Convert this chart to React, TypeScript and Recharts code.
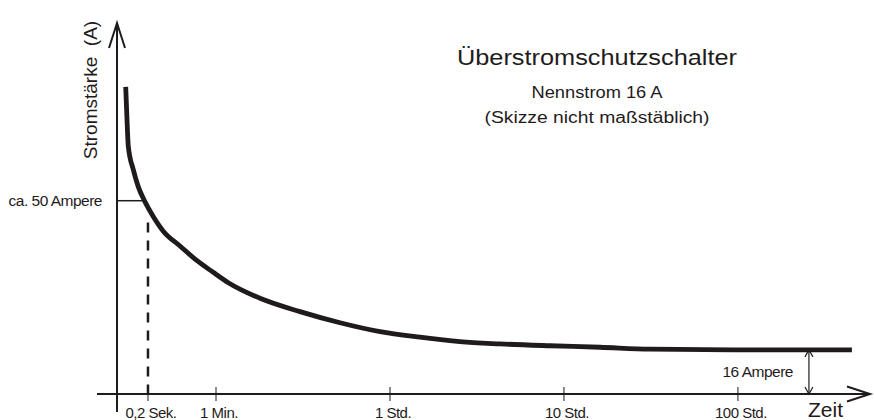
import React from "react";
import { ComposedChart, Line, XAxis, YAxis, ReferenceLine, Customized } from "recharts";

// sketch units: time 1 Min. = 0, 1 Std. = 1, 10 Std. = 2, 100 Std. = 3 (nicht maßstäblich)
const curveTime = [-0.519, -0.513, -0.504, -0.475, -0.447, -0.408, -0.36, -0.303, -0.207, -0.111, -0.016, 0.071, 0.253, 0.483, 0.713, 0.943, 1.172, 1.402, 1.632, 1.92, 2.207, 2.494, 3.069, 3.655];
const curveCurrent = [82.8, 75.7, 66.7, 60.4, 55.9, 51.8, 47.8, 43.9, 39.9, 36.0, 32.8, 30.0, 25.8, 22.2, 19.2, 16.8, 15.3, 14.1, 13.5, 13.0, 12.6, 12.1, 11.9, 11.9];

const tickTimes = [-0.391, 0, 1, 2, 3];
const tickLabels = ["0,2 Sek.", "1 Min.", "1 Std.", "10 Std.", "100 Std."];

const axisTime = -0.569;
const timeDomain = [-0.684, 3.759];
const currentDomain = [0, 100];
const axisBottom = -4.85;

const tripTime = -0.391;
const tripCurrent = 52.1;
const tripCurveTime = -0.408;
const tripDashTop = 46.2;

const nominalCurrent = 11.9;
const nominalMarkerTime = 3.408;

const data = curveTime.map((t, i) => ({ t, i: curveCurrent[i] }));

const INK = "#1f1b1c";
const FONT = "'Liberation Sans', Arial, Helvetica, sans-serif";

const TimeTick = (props: any) => {
  const { x, y, payload } = props;
  const idx = tickTimes.indexOf(payload.value);
  return (
    <g>
      <line x1={x} y1={y - 7} x2={x} y2={y + 7} stroke={INK} strokeWidth={1} />
      <text x={x + 3} y={y + 23.5} textAnchor="middle" fontSize={15} letterSpacing={-0.5} fill={INK} fontFamily={FONT}>
        {tickLabels[idx]}
      </text>
    </g>
  );
};

const TimeAxis = (p: any) => {
  const { x1, y1, x2, y2 } = p;
  return (
    <g>
      <line x1={x1} y1={y1} x2={x2} y2={y2} stroke={INK} strokeWidth={2} />
      <polyline points={`${x2 - 23},${y2 - 7.5} ${x2},${y2} ${x2 - 23},${y2 + 7.5}`} fill="none" stroke={INK} strokeWidth={2} />
      <text x={x2 - 62} y={y2 + 23} fontSize={21} fill={INK} fontFamily={FONT}>Zeit</text>
    </g>
  );
};

const CurrentAxis = (p: any) => {
  const { x1, y1, x2, y2 } = p;
  return (
    <g>
      <line x1={x1} y1={y1} x2={x2} y2={y2} stroke={INK} strokeWidth={2} />
      <polyline points={`${x2 - 8},${y2 + 25} ${x2},${y2} ${x2 + 8},${y2 + 25}`} fill="none" stroke={INK} strokeWidth={2} />
      <text x={x2 - 20} y={y2 + 67} transform={`rotate(-90, ${x2 - 20}, ${y2 + 67})`} textAnchor="middle" fontSize={19} fill={INK} fontFamily={FONT}>
        Stromstärke{"\u00a0\u00a0"}(A)
      </text>
    </g>
  );
};

const TripLine = (p: any) => {
  const { x1, y1, x2, y2 } = p;
  return (
    <g>
      <line x1={x1} y1={y1} x2={x2} y2={y2} stroke={INK} strokeWidth={1.5} />
      <text x={x1 - 15} y={y1 + 5} textAnchor="end" fontSize={15.5} letterSpacing={-0.5} fill={INK} fontFamily={FONT}>ca. 50 Ampere</text>
    </g>
  );
};

const NominalMarker = (p: any) => {
  const { x1, y1, x2, y2 } = p;
  const top = Math.min(y1, y2);
  const bottom = Math.max(y1, y2);
  return (
    <g>
      <line x1={x1} y1={top} x2={x2} y2={bottom} stroke={INK} strokeWidth={1.2} />
      <polyline points={`${x1 - 4},${top + 7} ${x1},${top} ${x1 + 4},${top + 7}`} fill="none" stroke={INK} strokeWidth={1.2} />
      <polyline points={`${x1 - 4},${bottom - 7} ${x1},${bottom} ${x1 + 4},${bottom - 7}`} fill="none" stroke={INK} strokeWidth={1.2} />
      <text x={x1 - 16} y={(top + bottom) / 2 + 5} textAnchor="end" fontSize={15.5} letterSpacing={-0.5} fill={INK} fontFamily={FONT}>16 Ampere</text>
    </g>
  );
};

const Titles = () => (
  <g fill={INK} fontFamily={FONT}>
    <text x={597} y={65} textAnchor="middle" fontSize={22} textLength={280} lengthAdjust="spacingAndGlyphs">Überstromschutzschalter</text>
    <text x={597} y={98} textAnchor="middle" fontSize={16} textLength={131} lengthAdjust="spacingAndGlyphs">Nennstrom 16 A</text>
    <text x={597} y={123} textAnchor="middle" fontSize={16} textLength={225} lengthAdjust="spacingAndGlyphs">(Skizze nicht maßstäblich)</text>
  </g>
);

export default function App() {
  return (
    <div style={{ position: "absolute", left: 0, top: 0, width: 874, height: 420, background: "#fff" }}>
      <ComposedChart width={874} height={420} data={data} margin={{ top: 23, right: 4, bottom: 0, left: 97 }}>
        <XAxis
          type="number"
          dataKey="t"
          domain={timeDomain}
          ticks={tickTimes}
          height={26}
          axisLine={false}
          tickLine={false}
          tickSize={0}
          tickMargin={0}
          tick={<TimeTick />}
          interval={0}
          allowDataOverflow
        />
        <YAxis type="number" domain={currentDomain} hide allowDataOverflow />
        <ReferenceLine segment={[{ x: timeDomain[0], y: 0 }, { x: timeDomain[1], y: 0 }]} ifOverflow="visible" shape={<TimeAxis />} />
        <ReferenceLine segment={[{ x: axisTime, y: axisBottom }, { x: axisTime, y: currentDomain[1] }]} ifOverflow="visible" shape={<CurrentAxis />} />
        <ReferenceLine segment={[{ x: axisTime, y: tripCurrent }, { x: tripCurveTime, y: tripCurrent }]} ifOverflow="visible" shape={<TripLine />} />
        <ReferenceLine
          segment={[{ x: tripTime, y: tripDashTop }, { x: tripTime, y: 0 }]}
          ifOverflow="visible"
          stroke={INK}
          strokeWidth={2.5}
          strokeDasharray="10 8"
        />
        <ReferenceLine segment={[{ x: nominalMarkerTime, y: 0 }, { x: nominalMarkerTime, y: nominalCurrent }]} ifOverflow="visible" shape={<NominalMarker />} />
        <Line type="monotone" dataKey="i" stroke={INK} strokeWidth={4.8} dot={false} isAnimationActive={false} />
        <Customized component={Titles} />
      </ComposedChart>
    </div>
  );
}
